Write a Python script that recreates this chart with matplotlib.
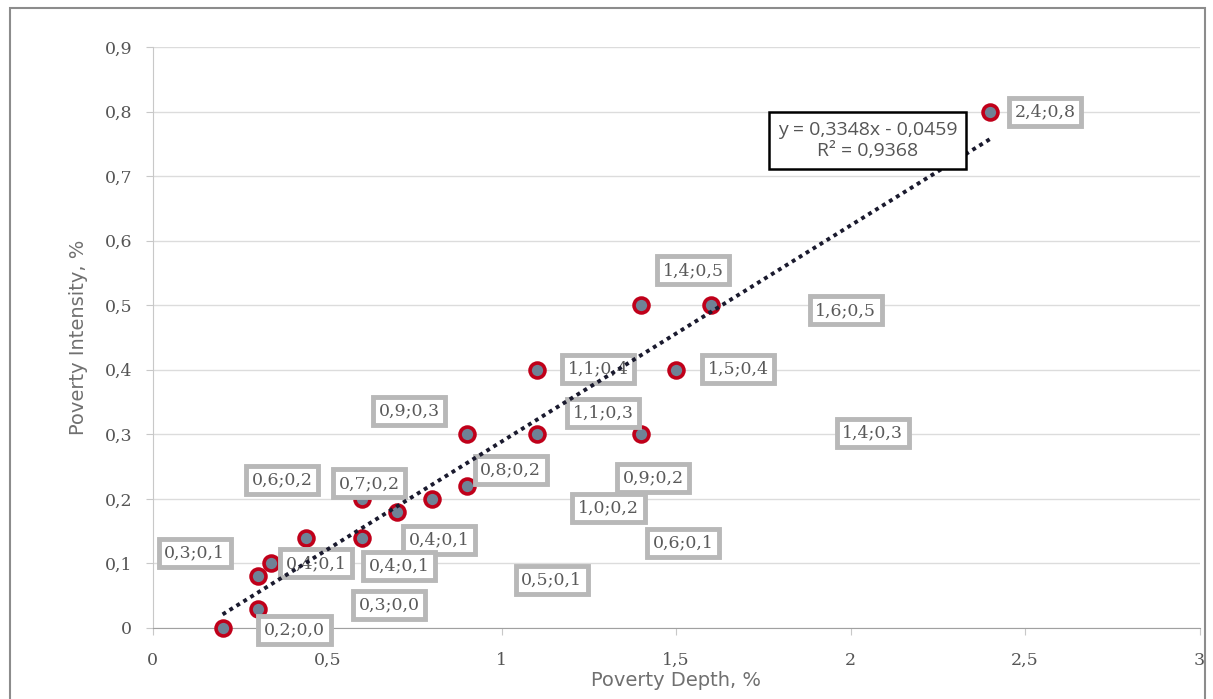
import matplotlib.pyplot as plt
from matplotlib.patches import Rectangle
import numpy as np

# ----------------- data
depth = [0.2, 0.3, 0.3, 0.34, 0.44, 0.6, 0.6, 0.7, 0.8, 0.9, 0.9,
         1.1, 1.1, 1.4, 1.4, 1.5, 1.6, 2.4]
intensity = [0.0, 0.08, 0.03, 0.1, 0.14, 0.14, 0.2, 0.18, 0.2, 0.22, 0.3,
             0.3, 0.4, 0.3, 0.5, 0.4, 0.5, 0.8]

# data labels as they appear in the chart (text, anchor x, anchor y)
label_text = ["2,4;0,8", "1,4;0,5", "1,6;0,5", "1,5;0,4", "1,1;0,4", "0,9;0,3",
              "1,1;0,3", "1,4;0,3", "0,6;0,2", "0,7;0,2", "0,8;0,2", "0,9;0,2",
              "1,0;0,2", "0,4;0,1", "0,6;0,1", "0,3;0,1", "0,4;0,1", "0,4;0,1",
              "0,5;0,1", "0,3;0,0", "0,2;0,0"]
label_x = [2.557, 1.549, 1.986, 1.677, 1.277, 0.734, 1.291, 2.063, 0.371, 0.62,
           1.026, 1.434, 1.306, 0.82, 1.52, 0.12, 0.469, 0.706, 1.143, 0.677, 0.406]
label_y = [0.799, 0.554, 0.492, 0.401, 0.401, 0.336, 0.333, 0.302, 0.229, 0.224,
           0.245, 0.232, 0.186, 0.136, 0.132, 0.116, 0.1, 0.096, 0.074, 0.036, -0.003]

slope, intercept, r2 = 0.3348, -0.0459, 0.9368

xticks = [0, 0.5, 1, 1.5, 2, 2.5, 3]
xtick_labels = ["0", "0,5", "1", "1,5", "2", "2,5", "3"]
yticks = [0, 0.1, 0.2, 0.3, 0.4, 0.5, 0.6, 0.7, 0.8, 0.9]
ytick_labels = ["0", "0,1", "0,2", "0,3", "0,4", "0,5", "0,6", "0,7", "0,8", "0,9"]

# ----------------- plotting
fig = plt.figure(figsize=(12.13, 6.99), dpi=100)
ax = fig.add_axes([0.126, 0.1016, 0.863, 0.8312])

fig.patches.append(Rectangle((0.008, -0.01), 0.985, 0.999, transform=fig.transFigure,
                             fill=False, edgecolor="#8c8c8c", linewidth=1.5))

ax.set_xlim(0, 3)
ax.set_ylim(0, 0.9)
ax.set_xticks(xticks)
ax.set_xticklabels(xtick_labels)
ax.set_yticks(yticks)
ax.set_yticklabels(ytick_labels)
ax.grid(axis="y", color="#dcdcdc", linewidth=1)
ax.set_axisbelow(True)
for side in ("top", "right"):
    ax.spines[side].set_visible(False)
ax.spines["left"].set_color("#c8c8c8")
ax.spines["bottom"].set_color("#a0a0a0")
ax.tick_params(colors="#c8c8c8", length=5, labelcolor="#555555", labelsize=12.5)
ax.tick_params(axis="x", pad=12)
ax.tick_params(axis="y", pad=10)
for lbl in ax.get_xticklabels() + ax.get_yticklabels():
    lbl.set_family("DejaVu Serif")

# points sit under the labels, the trendline is drawn over them
ax.scatter(depth, intensity, s=115, facecolor="#6f8296", edgecolor="#c0001a",
           linewidth=2.6, zorder=3, clip_on=False)

box_style = dict(boxstyle="square,pad=0.32", facecolor="white",
                 edgecolor="#b8b8b8", linewidth=3.5)
for txt, lx, ly in zip(label_text, label_x, label_y):
    ax.text(lx, ly, txt, ha="center", va="center", fontsize=12.5,
            family="DejaVu Serif", color="#5a5a5a", bbox=box_style, zorder=4)

# trendline
xs = np.array([min(depth), max(depth)])
ax.plot(xs, slope * xs + intercept, linestyle=(0, (1, 1.1)), color="#1a1a2e",
        linewidth=2.8, zorder=5)

eq = f"y = {slope:.4f}x - {abs(intercept):.4f}\nR² = {r2:.4f}".replace(".", ",")
ax.text(2.049, 0.755, eq, ha="center", va="center", fontsize=14,
        family="Open Sans", color="#555555", linespacing=1.2,
        bbox=dict(boxstyle="square,pad=0.45", facecolor="white",
                  edgecolor="black", linewidth=1.8), zorder=6)

ax.set_xlabel("Poverty Depth, %", fontsize=14, color="#707070", labelpad=2)
ax.set_ylabel("Poverty Intensity, %", fontsize=14, color="#707070", labelpad=12)

fig.savefig("out.png", dpi=100)
